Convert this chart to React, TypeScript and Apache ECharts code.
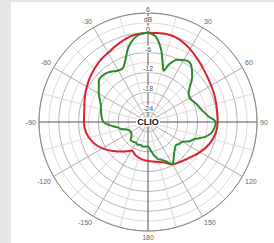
import React, { useEffect, useRef } from "react";
import * as echarts from "echarts";

// Angles in degrees, clockwise from top (0..360); levels in dB
const redAngles = [0, 10, 20, 30, 40, 50, 60, 70, 80, 90, 100, 110, 120, 130, 140, 150, 160, 170, 180, 190, 200, 205, 210, 215, 220, 230, 240, 250, 260, 270, 280, 290, 300, 310, 320, 330, 340, 350, 360];
const redDb = [0, 0.2, -0.2, -1.5, -3.0, -4.2, -4.9, -5.4, -5.8, -5.9, -6.3, -7.3, -8.8, -10.3, -11.4, -12.2, -14.0, -14.8, -15.2, -15.6, -16.2, -16.8, -17.0, -16.2, -15.3, -13.3, -11.0, -9.2, -8.0, -7.6, -7.4, -6.6, -5.6, -4.6, -3.6, -2.8, -1.6, -0.4, 0];

const greenAngles = [0, 5, 10, 15, 17, 20, 25, 30, 35, 40, 45, 50, 55, 60, 65, 70, 75, 80, 85, 90, 95, 100, 105, 110, 115, 120, 125, 130, 135, 140, 145, 150, 155, 160, 165, 170, 175, 180, 190, 200, 205, 210, 220, 225, 230, 240, 250, 255, 260, 265, 270, 280, 290, 300, 310, 320, 330, 335, 340, 345, 350, 355, 360];
const greenDb = [0, -1.0, -4.5, -9.5, -10.8, -8.5, -6.2, -5.3, -5.0, -6.3, -8.1, -10.5, -12.0, -12.4, -12.0, -11.3, -10.7, -9.8, -8.5, -6.5, -6.8, -7.6, -9.3, -12.0, -13.2, -15.0, -15.5, -16.0, -15.5, -14.7, -13.5, -12.2, -13.8, -14.8, -15.4, -16.8, -18.5, -19.6, -19.4, -19.7, -19.4, -19.8, -19.4, -19.6, -20.5, -21.0, -20.3, -18.6, -17.6, -15.5, -13.5, -12.6, -11.8, -9.8, -7.6, -7.6, -9.0, -9.0, -7.0, -3.8, -1.5, -0.3, 0];

const radiusLabels: Record<string, string> = { "6": "6", "3": "dB", "0": "0", "-6": "-6", "-12": "-12", "-18": "-18", "-24": "-24" };

export default function App() {
  const ref = useRef<HTMLDivElement>(null);
  useEffect(() => {
    if (!ref.current) return;
    const chart = echarts.init(ref.current, undefined, { renderer: "svg" });
    const font = "Liberation Sans";
    chart.setOption({
      animation: false,
      polar: { center: [137, 120], radius: 109 },
      angleAxis: {
        type: "value",
        min: 0,
        max: 360,
        interval: 15,
        startAngle: 90,
        clockwise: true,
        axisLine: { lineStyle: { color: "#888", width: 1 } },
        axisTick: { show: false },
        axisLabel: {
          margin: 3,
          fontSize: 7,
          color: "#666",
          fontFamily: font,
          formatter: (v: number) =>
            v % 30 !== 0 || v === 0 || v === 360 ? "" : String(v > 180 ? v - 360 : v),
        },
        splitLine: {
          show: true,
          lineStyle: { color: ["#555", "#dcdcdc", "#b0b0b0", "#dcdcdc", "#b0b0b0", "#dcdcdc"], width: 1 },
        },
      },
      radiusAxis: {
        type: "value",
        min: -27,
        max: 6,
        interval: 3,
        axisLine: { show: false },
        axisTick: { show: false },
        axisLabel: {
          fontSize: 7,
          color: "#555",
          fontFamily: font,
          align: "center",
          verticalAlign: "bottom",
          margin: 0,
          backgroundColor: "#fff",
          padding: [0, 1, 0, 1],
          formatter: (v: number) => radiusLabels[String(v)] ?? "",
        },
        splitLine: { show: true, lineStyle: { color: ["#eed0d6", "#b4b4b4"], width: 1 } },
      },
      graphic: [
        {
          type: "text",
          x: 137,
          y: 120,
          z: 100,
          style: {
            text: "CLIO",
            fontSize: 9,
            fontWeight: "bold",
            fontFamily: font,
            fill: "#111",
            align: "center",
            verticalAlign: "middle",
            backgroundColor: "#fff",
            padding: [0, 1],
          },
        },
      ],
      series: [
        {
          type: "line",
          coordinateSystem: "polar",
          data: redAngles.map((a, i) => [redDb[i], a]),
          smooth: 0.4,
          symbol: "none",
          lineStyle: { color: "#d9222e", width: 2 },
        },
        {
          type: "line",
          coordinateSystem: "polar",
          data: greenAngles.map((a, i) => [greenDb[i], a]),
          smooth: 0.3,
          symbol: "none",
          lineStyle: { color: "#2b8a2e", width: 2 },
        },
      ],
    });
    return () => chart.dispose();
  }, []);
  return (
    <div style={{ position: "fixed", left: 0, top: 0, width: 274, height: 243, background: "#e6e6e8" }}>
      <div
        ref={ref}
        style={{ position: "absolute", left: 11, top: 2, width: 263, height: 241, background: "#fff" }}
      />
    </div>
  );
}
